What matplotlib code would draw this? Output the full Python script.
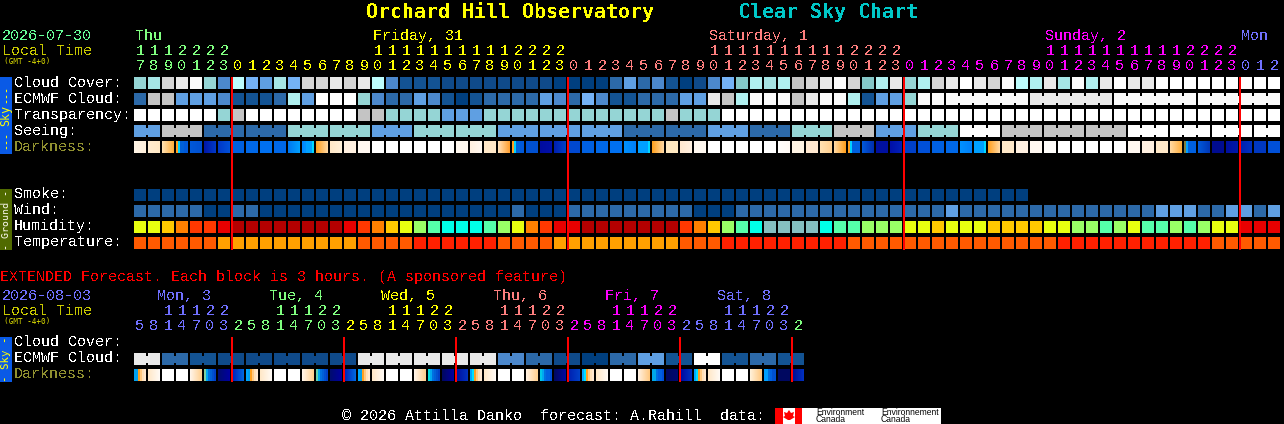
import matplotlib
matplotlib.use("Agg")
import numpy as np
import matplotlib.pyplot as plt
from matplotlib.colors import to_rgb
from matplotlib.patches import Polygon, Rectangle

plt.rcParams['font.family'] = ['Liberation Mono', 'DejaVu Sans Mono']
plt.rcParams['text.antialiased'] = False
plt.rcParams['text.hinting'] = 'native'

# Colour keys used by the block rows
block_colors = {
    '0': '#003f7f', '1': '#0f4a8a', '2': '#135393', '3': '#2c69a8', '4': '#4c88cc',
    '5': '#5f9fe2', '6': '#74b2f6', '7': '#85c8c8', '8': '#95d5d5', '9': '#a5e5e5',
    'A': '#b0f0f0', 'B': '#bdfdfd', 'C': '#c4c4c4', 'D': '#d4d4d4', 'E': '#e9e9e9',
    'F': '#fbfbfb', 'G': '#ffffff',
    'h': '#b40000', 'r': '#e80000', 'o': '#ff3800', 'n': '#ff8000', 'y': '#ffc800',
    'l': '#e8ff10', 'g': '#99ff66', 'm': '#55ffaa', 'c': '#00ffe8', 't': '#85c0c0',
    'u': '#ff2000', 'v': '#ff5a00', 'w': '#ffa000',
}

# Hourly rows, one key per block
cloud_cover = "89DEF84B65" "96DDEDEB42" "2211111111" "0000353420" "1467A9ACDE" "FD7AE8ADEG" "EDFBAE9FAE" "GEEGGGGGGGGG"
ecmwf_cloud = "3CC5554222" "3A5GGG8433" "5420233335" "4364223335" "5ECAFFFCEF" "FA2558FFFF" "FFFFEEEEEE" "FFFFFFFFFFFF"
transparency = "GGGGGG8CGG" "GGGGGGCC88" "8855588888" "88888888C8" "88GGGGGGGG" "GGGGGGGGGG" "GGGGGGGGGG" "GGGGGGGGGGGG"
seeing_values = "5C3388588555335" "38C58GCCCGGGG"
seeing_sizes = [2] + [3] * 26 + [2]
ecmwf_sizes = [1] * 58 + [6] * 4
smoke = "0" * 64
wind = "3333300330" "0000000000" "0000000300" "0333333333" "0003333333" "3333333353" "3333333333" "333555335535"
humidity = "llynoorhhh" "hhhhhronyl" "gmcccmglno" "rrhhhhhhho" "nygmcttttc" "mmgggllyll" "lyyyyllggm" "glmmgmgllrrr"
temperature = "vvvvvvwwww" "wwwwwwvvvv" "uuuuuuvvvv" "wwwwwwwwwv" "vvuuuuuuuu" "uvvvvvvvvv" "vvvvvvuuuu" "uuuuuuuvvvvv"

# Darkness: one colour, two for a fade, more for narrow bands inside the block
darkness = [
    "fff5e6 fff0dc", "ffecd0 ffe8c4", "ffe0b0 ffb040", "ffa020 00d0ff 0060d8 0060d8 0058d8 0058d8",
    "0058d8 0050d0", "0018a8 0038c8", "0038c8 0050d8", "0060e0", "0068e8", "0070f0",
    "0068e8", "0078f0 00a0ff", "0088ff 0090ff 00a0ff 00a0ff 00a0ff 00d8ff", "ffa020 ffd8a0", "ffe8c8 fff0d8",
    "fff0e0", "fff8f0", "ffffff", "ffffff", "ffffff",
    "ffffff", "ffffff", "ffffff", "fff8f0", "fff0e0 fff8f0",
    "ffe8c8", "ffe0b8 ffa030", "ffa020 00d0ff 0060d8 0060d8 0058d8 0058d8", "0050d0", "000ca0 0010a8",
    "0020b0 0040c8", "0048d0", "0060e0", "0068e8", "0070f0",
    "0090ff 0080f8", "00a0ff 00a0ff 00a0ff 00a0ff 00a0ff 00d8ff", "ffa020 ffd8a0", "ffe8c0", "ffe8d0 fff0e0",
    "fff8f0", "ffffff", "ffffff", "ffffff", "ffffff",
    "ffffff", "fffefc fffaf5", "fff4e4", "ffe8d0", "ffe0b0 ffd090",
    "ffd8a0 ffa020", "ffa020 00d0ff 0060e0 0060e0 0060e0 0060e0", "0058d8 0030b0", "0010a0", "0010a8 0020b8",
    "0040c8", "0050d8", "0060e0", "0068e8", "0090ff 0080f8",
    "00a0ff 00a0ff 00a0ff 00a0ff 00a0ff 00d8ff", "ffa020 ffd8a0", "ffe8c8", "fff0e0", "fff8f0",
    "fffdfa", "ffffff", "ffffff", "ffffff", "ffffff",
    "ffffff", "fff8f0", "fff0e0", "ffe8c8", "ffd8a0 ffb040",
    "808040 00a0ff 0060e0 0060e0 0060e0 0060e0", "0058d8 0038b8", "000c90", "0010a0 0018a8", "0020b0 0030c0",
    "0038c0", "0050d8",
]

# Hour digits of the hourly chart
hour_tens = "1112222" + " " * 10 + "11111111112222" + " " * 10 + "11111111112222" + " " * 10 + "11111111112222" + "   "
hour_units = "7890123" "012345678901234567890123" "012345678901234567890123" "012345678901234567890123" "012"
hour_colors = ['#80ff80'] * 7 + ['#ffff00'] * 24 + ['#ff7f7f'] * 24 + ['#ff00ff'] * 24 + ['#7070ff'] * 3
day_labels = ["Thu", "Friday, 31", "Saturday, 1", "Sunday, 2", "Mon"]
day_columns = [0, 17, 41, 65, 79]
day_colors = ['#80ff80', '#ffff00', '#ff7f7f', '#ff00ff', '#7070ff']
midnights = [7, 31, 55, 79]

# Extended forecast, 3 hour blocks
ext_ecmwf = "E32" "11111" "EEEEE" "43103" "52G" "232"
ext_sizes = [2] * 24
ext_darkness = [
    "00a0f0 00a0f0 ffa020 ffc880 ffe0b8 ffe8d0", "ffe8c8 fffaf5", "ffffff", "ffffff",
    "fff4e8 ffd090", "80d0a0 00a8f0 0070e0 0060d8 0050d0 0040c8", "000c70 0000a0", "0020b8 0068e0",
    "00a8ff 00a0f0 ffa020 ffc880 ffe0b8 ffe8d0", "ffe8c8 fffaf5", "ffffff", "ffffff",
    "fff4e8 ffd090", "60d0b0 00a8f0 0070e0 0060d8 0050d0 0040c8", "000c70 0000a0", "0020b8 0068e0",
    "00a8ff 00a0f0 ffa020 ffc880 ffe0b8 ffe8d0", "ffe8c8 fffaf5", "ffffff", "ffffff",
    "fff4e8 ffd090", "00e0e0 00a8f0 0070e0 0060d8 0050d0 0040c8", "000860 0000a0", "0010a0 0030c0",
    "00a8ff 00e0ff ffa020 ffc880 ffe0b8 ffe8d0", "ffe8c8 fffaf5", "ffffff", "ffffff",
    "fff0e0 ffd090", "00c8e8 00a8f0 0070e0 0060e0 0060e0 0050d8", "000860 0008a0", "0020b0 0040c8",
    "00a8ff 00e0ff ffa020 ffc880 ffe0b8 ffe8d0", "ffe8c8 fffaf5", "ffffff", "ffffff",
    "fff0e0 ffc880", "00a8e8 00a8e8 0070e0 0060e0 0060e0 0050d8", "000860 000870", "0008a0 0030c0",
    "00a8ff 00e0ff ffa020 ffc880 ffe0b8 ffe8d0", "ffe8c8 fffaf5", "ffffff", "ffffff",
    "fff0d8 ffc880", "00a0ff 00a0ff 0070e0 0060e0 0050d0 0050d0", "000860 000860", "000c90 0030c0",
]
ext_tens = "  11122" + " " * 3 + "11122" + " " * 3 + "11122" + " " * 3 + "11122" + " " * 3 + "11122" + " " * 3 + "11122" + " "
ext_units = "5814703" "25814703" "25814703" "25814703" "25814703" "25814703" "2"
ext_colors = ['#7070ff'] * 7 + ['#80ff80'] * 8 + ['#ffff00'] * 8 + ['#ff7f7f'] * 8 + ['#ff00ff'] * 8 + ['#7070ff'] * 8 + ['#80ff80']
ext_day_labels = ["Mon, 3", "Tue, 4", "Wed, 5", "Thu, 6", "Fri, 7", "Sat, 8"]
ext_day_colors = ['#7070ff', '#80ff80', '#ffff00', '#ff7f7f', '#ff00ff', '#7070ff']
ext_midnights = [7, 15, 23, 31, 39, 47]

LEFT = 134
STEP = 14
CELL = 12


def draw_row(ax, values, y, sizes=None):
    for i, key in enumerate(values):
        ax.add_patch(Rectangle((LEFT + i * STEP, y), CELL, CELL, fc=block_colors[key], lw=0))
    if sizes is None:
        return
    # blocks of one forecast step are tied together by a narrower bar
    col = 0
    for size in sizes:
        for j in range(size - 1):
            ax.add_patch(Rectangle((LEFT + (col + j) * STEP + CELL, y + 3), STEP - CELL, 7,
                                   fc=block_colors[values[col]], lw=0))
        col += size


def draw_darkness(ax, cells, y):
    for i, cell in enumerate(cells):
        stops = ['#' + c for c in cell.split()]
        if len(stops) == 2:
            a, b = np.array(to_rgb(stops[0])), np.array(to_rgb(stops[1]))
            img = np.array([[a + (b - a) * t for t in np.linspace(0, 1, CELL)]])
        else:
            img = np.array([[to_rgb(c) for c in stops]])
        x = LEFT + i * STEP
        ax.imshow(img, extent=(x, x + CELL, y + CELL, y), aspect='auto', interpolation='nearest', zorder=2)


def label(ax, x, y, s, color='#ffffff', size=10.8, **kw):
    ax.text(x, y, s, color=color, fontsize=size, va='baseline', ha=kw.pop('ha', 'left'), zorder=5, **kw)


def small(ax, x, y, s, color, size, rotation=0):
    ax.text(x, y, s, color=color, fontsize=size, rotation=rotation, family='DejaVu Sans Mono',
            ha='center', va='center', antialiased=True, zorder=5)


def draw_hours(ax, tens, units, colors, y_tens, y_units):
    for i, (t, u, c) in enumerate(zip(tens, units, colors)):
        x = LEFT + i * STEP + CELL / 2
        if t != ' ':
            label(ax, x, y_tens, t, c, ha='center')
        label(ax, x, y_units, u, c, ha='center')


fig = plt.figure(figsize=(12.84, 4.24), dpi=100, facecolor='black')
ax = fig.add_axes([0, 0, 1, 1])
ax.set_facecolor('black')
ax.set_xlim(0, 1284)
ax.set_ylim(424, 0)
ax.axis('off')

# Title
label(ax, 366, 18, "Orchard Hill Observatory", '#ffff00', 14.4, fontweight='bold', family='DejaVu Sans Mono')
label(ax, 738, 18, "Clear Sky Chart", '#00c8c8', 14.4, fontweight='bold', family='DejaVu Sans Mono')

# Hourly header
label(ax, 2, 40, "2026-07-30", '#66ff99')
label(ax, 2, 55, "Local Time", '#c8c800')
small(ax, 27, 62, "(GMT -4+0)", '#c8c800', 5.6)
for name, col, c in zip(day_labels, day_columns, day_colors):
    label(ax, LEFT + 1 + col * STEP, 40, name, c)
draw_hours(ax, hour_tens, hour_units, hour_colors, 55, 70)

# Row names
for name, y, c in [("Cloud Cover:", 87, '#ffffff'), ("ECMWF Cloud:", 103, '#ffffff'),
                   ("Transparency:", 119, '#ffffff'), ("Seeing:", 135, '#ffffff'),
                   ("Darkness:", 151, '#909030'), ("Smoke:", 198, '#ffffff'), ("Wind:", 214, '#ffffff'),
                   ("Humidity:", 230, '#ffffff'), ("Temperature:", 246, '#ffffff'),
                   ("Cloud Cover:", 346, '#ffffff'), ("ECMWF Cloud:", 362, '#ffffff'),
                   ("Darkness:", 378, '#909030')]:
    label(ax, 14, y, name, c)

seeing = "".join(v * n for v, n in zip(seeing_values, seeing_sizes))
draw_row(ax, cloud_cover, 77)
draw_row(ax, ecmwf_cloud, 93, ecmwf_sizes)
draw_row(ax, transparency, 109)
draw_row(ax, seeing, 125, seeing_sizes)
draw_darkness(ax, darkness, 141)

# Ground rows
draw_row(ax, smoke, 189)
draw_row(ax, wind, 205)
draw_row(ax, humidity, 221)
draw_row(ax, temperature, 237)

for col in midnights:
    ax.add_patch(Rectangle((LEFT + col * STEP - 1, 77), 2, 173, fc='#ff0000', lw=0, zorder=4))

# Side bars
ax.add_patch(Rectangle((0, 77), 12, 77, fc='#0a5ae6', lw=0))
ax.add_patch(Rectangle((0, 189), 12, 61, fc='#506a00', lw=0))
ax.add_patch(Rectangle((0, 337), 12, 45, fc='#0a5ae6', lw=0))
small(ax, 5, 94, "---", '#ffff00', 7.2, 90)
small(ax, 6, 115, "Sky", '#ffff00', 8.4, 90)
small(ax, 5, 140, "---", '#ffff00', 7.2, 90)
small(ax, 6, 219.5, "- Ground -", '#f0f0e0', 7.2, 90)
small(ax, 6, 359.5, "- Sky -", '#ffff00', 7.8, 90)

# Extended forecast
label(ax, 0, 281, "EXTENDED Forecast. Each block is 3 hours. (A sponsored feature)", '#ff0000')
label(ax, 2, 300, "2026-08-03", '#7070ff')
label(ax, 2, 315, "Local Time", '#c8c800')
small(ax, 27, 322, "(GMT -4+0)", '#c8c800', 5.6)
for i, (name, c) in enumerate(zip(ext_day_labels, ext_day_colors)):
    label(ax, 157 + i * 112, 300, name, c)
draw_hours(ax, ext_tens, ext_units, ext_colors, 315, 330)

ext_values = "".join(v * 2 for v in ext_ecmwf)
draw_row(ax, ext_values, 353, ext_sizes)
draw_darkness(ax, ext_darkness, 369)
for col in ext_midnights:
    ax.add_patch(Rectangle((LEFT + col * STEP - 1, 337), 2, 45, fc='#ff0000', lw=0, zorder=4))

# Footer and logo
label(ax, 342, 420, "\u00a9 2026 Attilla Danko  forecast: A.Rahill  data:")
ax.add_patch(Rectangle((775, 408), 166, 16, fc='#ffffff', lw=0))
ax.add_patch(Rectangle((775, 408), 8, 16, fc='#ff0000', lw=0))
ax.add_patch(Rectangle((795, 408), 7, 16, fc='#ff0000', lw=0))
ax.add_patch(Polygon([(789, 410), (791, 413), (794, 412), (793, 416), (795, 417), (790, 420),
                      (788, 420), (783, 417), (785, 416), (784, 412), (787, 413)], fc='#ff0000', lw=0))
for x, top in [(816, "Environment"), (881, "Environnement")]:
    ax.text(x, 412.5, top, color='#000000', fontsize=6.2, family='Liberation Sans', va='center', antialiased=True, zorder=5)
    ax.text(x, 420, "Canada", color='#000000', fontsize=6.2, family='Liberation Sans', va='center', antialiased=True, zorder=5)

ax.set_xlim(0, 1284)
ax.set_ylim(424, 0)
fig.savefig("out.png", dpi=100, facecolor='black')
